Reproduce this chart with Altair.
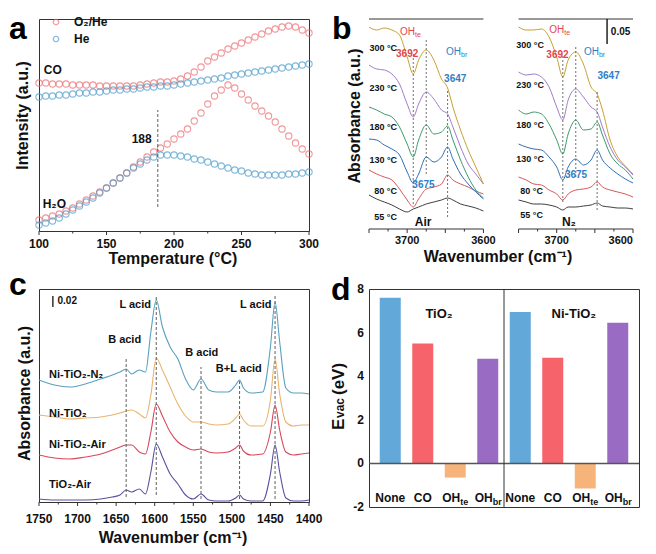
import altair as alt
import pandas as pd

FONT = "Liberation Sans"
INK = "#111111"
FRAME = "#333333"
DASH = "#4d4d4d"

# ===================== panel (a) data =====================
temp_a = list(range(100, 301, 5))
co_o2he = [148, 148, 147, 147, 147, 146, 146, 146, 146, 145, 145, 145, 145, 145, 145, 146, 147, 148, 149, 149,
           150, 152, 155, 159, 164, 170, 174, 178, 182, 185, 188, 191, 194, 197, 200, 202, 204, 205, 204, 201, 198]
co_he = [134, 135, 135, 136, 136, 137, 138, 138, 139, 139, 140, 141, 141, 142, 142, 143, 144, 144, 145, 145,
         146, 147, 148, 149, 150, 151, 152, 153, 155, 156, 157, 158, 159, 160, 161, 162, 163, 164, 165, 166, 167]
h2o_o2he = [11, 13, 15, 17, 20, 23, 27, 31, 35, 39, 43, 48, 53, 58, 64, 69, 74, 79, 83, 87,
            92, 97, 102, 110, 118, 127, 135, 141, 146, 143, 137, 131, 125, 120, 115, 109, 102, 95, 88, 82, 77]
h2o_he = [6, 8, 10, 13, 17, 21, 25, 29, 33, 38, 43, 48, 53, 58, 63, 67, 71, 74, 76, 76,
          76, 75, 74, 72, 71, 69, 67, 65, 63, 61, 60, 58, 57, 56, 56, 56, 56, 57, 57, 58, 59]
gases_a = ["O₂/He", "He"]
colors_a = ["#EC6B70", "#4A9BCB"]
ticks_a = list(range(100, 301, 25))
labels_a = [100, 150, 200, 250, 300]

# ===================== panel (b) data =====================
wn_b = [3750, 3740, 3730, 3720, 3710, 3700, 3692, 3685, 3675, 3665, 3655, 3647, 3640, 3630, 3620, 3610, 3600]
temps_b = ["55 °C", "80 °C", "130 °C", "180 °C", "230 °C", "300 °C"]
colors_b = ["#3F3F3F", "#D4575C", "#2D6DB4", "#3C9A6B", "#A07CC9", "#C6A032"]
air_b = {
    "300 °C": [202, 199, 201, 199, 194, 172, 155, 169, 179, 169, 150, 141, 122, 99, 79, 62, 45],
    "230 °C": [164, 160, 159, 155, 145, 125, 112, 125, 137, 130, 119, 115, 102, 82, 65, 55, 45],
    "180 °C": [122, 119, 115, 112, 102, 85, 72, 89, 104, 95, 97, 103, 89, 69, 52, 39, 31],
    "130 °C": [90, 89, 84, 80, 74, 57, 46, 55, 72, 67, 72, 82, 70, 55, 45, 37, 30],
    "80 °C": [59, 55, 52, 49, 40, 29, 22, 30, 40, 42, 45, 54, 49, 45, 42, 38, 35],
    "55 °C": [34, 30, 27, 24, 20, 17, 20, 22, 25, 27, 29, 31, 29, 25, 23, 21, 18],
}
n2_b = {
    "300 °C": [202, 199, 199, 200, 192, 172, 152, 169, 177, 165, 142, 135, 119, 89, 72, 63, 55],
    "230 °C": [157, 154, 155, 152, 142, 122, 109, 129, 140, 132, 122, 117, 102, 82, 69, 62, 54],
    "180 °C": [119, 115, 117, 115, 105, 89, 75, 95, 109, 99, 100, 107, 94, 75, 65, 59, 50],
    "130 °C": [85, 82, 80, 79, 72, 62, 49, 62, 70, 64, 69, 79, 69, 61, 55, 50, 46],
    "80 °C": [52, 49, 45, 44, 39, 35, 29, 35, 39, 40, 42, 47, 42, 39, 37, 35, 32],
    "55 °C": [29, 27, 25, 25, 24, 22, 19, 22, 22, 23, 24, 26, 23, 22, 21, 21, 20],
}
ticks_b = [3750, 3725, 3700, 3675, 3650, 3625, 3600]
labels_b = [3700, 3600]

# ===================== panel (c) data =====================
wn_c = [1750, 1730, 1710, 1690, 1670, 1655, 1645, 1637, 1630, 1620, 1612, 1605, 1598, 1590, 1580, 1570, 1560,
        1550, 1540, 1530, 1520, 1505, 1495, 1490, 1485, 1475, 1460, 1450, 1444, 1438, 1430, 1420, 1410, 1400]
samples_c = ["Ni-TiO₂-N₂", "Ni-TiO₂", "Ni-TiO₂-Air", "TiO₂-Air"]
colors_c = ["#5B9FBF", "#E8B46E", "#D9465B", "#5A52A0"]
abs_c = {
    "Ni-TiO₂-N₂": [122, 117, 115, 118, 123, 127, 130, 133, 128, 132, 130, 170, 202, 175, 155, 143, 123,
                   112, 123, 112, 110, 110, 117, 122, 114, 109, 110, 155, 200, 160, 114, 109, 109, 108],
    "Ni-TiO₂": [87, 85, 83, 84, 85, 87, 89, 91, 92, 88, 84, 107, 144, 132, 115, 98, 86,
                80, 80, 78, 77, 78, 84, 88, 82, 76, 76, 102, 143, 108, 80, 76, 77, 77],
    "Ni-TiO₂-Air": [47, 44, 43, 45, 48, 52, 55, 57, 57, 50, 48, 70, 98, 86, 70, 60, 55,
                    52, 53, 50, 49, 50, 54, 57, 51, 47, 48, 70, 97, 72, 50, 47, 48, 49],
    "TiO₂-Air": [3, 2, 2, 2, 3, 5, 7, 12, 10, 13, 8, 30, 58, 45, 28, 18, 7,
                 3, 8, 2, 1, 1, 4, 7, 3, 1, 1, 28, 57, 30, 4, 1, 1, 2],
}
ticks_c = list(range(1400, 1751, 25))
labels_c = list(range(1400, 1751, 50))

# ===================== panel (d) data =====================
cats_d = ["None", "CO", "OH_te", "OH_br"]
colors_d = ["#62A8D8", "#F6636B", "#F6B47A", "#9A6BC2"]
evac_tio2 = [7.6, 5.5, -0.65, 4.8]
evac_ni = [6.95, 4.85, -1.15, 6.45]
ticks_d = [-2, 0, 2, 4, 6, 8]


# ===================== helpers =====================
def letter(ch, x, y):
    return alt.Chart(pd.DataFrame({"t": [ch]})).mark_text(
        font=FONT, fontSize=32, fontWeight="bold", align="left", baseline="top", color="black"
    ).encode(text="t:N", x=alt.value(x), y=alt.value(y))


def title_text(t, x, y, angle=0, size=16):
    kw = dict(font=FONT, fontSize=size, fontWeight="bold", color=INK, align="center", baseline="alphabetic")
    if angle:
        kw["angle"] = angle
    return alt.Chart(pd.DataFrame({"t": [t]})).mark_text(**kw).encode(
        text="t:N", x=alt.value(x), y=alt.value(y))


def text_layer(records, xs, ys, xf="x", yf="y", calc=None, **mk):
    m = dict(font=FONT, fontSize=11, fontWeight="bold", color=INK, align="center", baseline="middle")
    m.update(mk)
    ch = alt.Chart(pd.DataFrame(records))
    if calc:
        ch = ch.transform_calculate(u=calc)
    return ch.mark_text(**m).encode(
        x=alt.X(f"{xf}:Q", scale=xs, axis=None),
        y=alt.Y(f"{yf}:Q", scale=ys, axis=None),
        text="t:N",
    )


def tick_rules(df, xs, xf, H, length, calc=None):
    ch = alt.Chart(df)
    if calc:
        ch = ch.transform_calculate(u=calc)
    return ch.mark_rule(color=FRAME, strokeWidth=1).encode(
        x=alt.X(f"{xf}:Q", scale=xs, axis=None), y=alt.value(H), y2=alt.value(H + length))


def tick_text(df, xs, xf, ypix, calc=None, **mk):
    m = dict(font=FONT, fontSize=12, fontWeight="bold", color=INK, align="center", baseline="top")
    m.update(mk)
    ch = alt.Chart(df)
    if calc:
        ch = ch.transform_calculate(u=calc)
    return ch.mark_text(**m).encode(
        x=alt.X(f"{xf}:Q", scale=xs, axis=None), y=alt.value(ypix), text="t:N")


# ===================== panel (a) =====================
HA = 212
rows = []
for gas, sp, vals in (("O₂/He", "CO", co_o2he), ("O₂/He", "H2O", h2o_o2he),
                      ("He", "CO", co_he), ("He", "H2O", h2o_he)):
    for t, v in zip(temp_a, vals):
        rows.append(dict(T=t, I=v, gas=gas, sp=sp))
df_a = pd.DataFrame(rows)

XS_A = alt.Scale(domain=[100, 300], nice=False, zero=False)
YS_A = alt.Scale(domain=[0, HA], nice=False, zero=False)

pts_a = alt.Chart(df_a).mark_point(filled=False, size=40, strokeWidth=1.1).encode(
    x=alt.X("T:Q", scale=XS_A, axis=None),
    y=alt.Y("I:Q", scale=YS_A, axis=None),
    color=alt.Color("gas:N", scale=alt.Scale(domain=gases_a, range=colors_a), legend=alt.Legend(
        orient="none", legendX=11, legendY=-3, title=None, labelFont=FONT, labelFontSize=12,
        labelFontWeight="bold", labelColor=INK, symbolSize=30, symbolStrokeWidth=1.2,
        symbolType="circle", labelOffset=12, rowPadding=5, padding=0)),
    detail="sp:N",
)
rule_a = alt.Chart(pd.DataFrame({"T": [188], "y1": [24], "y2": [121]})).mark_rule(
    color=DASH, strokeDash=[3, 2], strokeWidth=0.9).encode(
    x=alt.X("T:Q", scale=XS_A, axis=None), y=alt.Y("y1:Q", scale=YS_A, axis=None), y2="y2:Q")
txt_a1 = text_layer([{"x": 103.5, "y": 161, "t": "CO"}, {"x": 102.7, "y": 27, "t": "H₂O"}],
                    XS_A, YS_A, fontSize=12, align="left")
txt_a2 = text_layer([{"x": 183.5, "y": 92, "t": "188"}], XS_A, YS_A, fontSize=12, align="right")
df_ta = pd.DataFrame({"x": ticks_a})
df_la = pd.DataFrame({"x": labels_a, "t": [str(v) for v in labels_a]})

panel_a = alt.layer(
    pts_a, rule_a, txt_a1, txt_a2,
    tick_rules(df_ta[df_ta.x.isin(labels_a)], XS_A, "x", HA, 4),
    tick_rules(df_ta[~df_ta.x.isin(labels_a)], XS_A, "x", HA, 2.5),
    tick_text(df_la, XS_A, "x", HA + 8),
    title_text("Temperature (°C)", 134, HA + 33),
    title_text("Intensity (a.u.)", -11.5, 96.5, angle=270),
    letter("a", -30, -5),
).properties(width=270, height=HA)

# ===================== panel (b) =====================
HB = 210
U_EXPR = "datum.gas == 'N2' ? 3946 - datum.wn : 3750 - datum.wn"
XS_B = alt.Scale(domain=[0, 346], nice=False, zero=False)
YS_B = alt.Scale(domain=[0, HB], nice=False, zero=False)

rows = []
for gas, series in (("Air", air_b), ("N2", n2_b)):
    for temp in temps_b:
        for w, v in zip(wn_b, series[temp]):
            rows.append(dict(gas=gas, temp=temp, wn=w, ab=v))
df_b = pd.DataFrame(rows)

lines_b = alt.Chart(df_b).transform_calculate(u=U_EXPR).mark_line(
    strokeWidth=1, interpolate="monotone").encode(
    x=alt.X("u:Q", scale=XS_B, axis=None),
    y=alt.Y("ab:Q", scale=YS_B, axis=None),
    color=alt.Color("temp:N", scale=alt.Scale(domain=temps_b, range=colors_b), legend=None),
    detail="gas:N",
)

frame_b = pd.DataFrame({"gas": ["Air", "N2"], "wn1": [3750, 3750], "wn2": [3600, 3600],
                        "top": [HB, HB], "bot": [0, 0]})
frame_calc = dict(u1="datum.gas == 'N2' ? 3946 - datum.wn1 : 3750 - datum.wn1",
                  u2="datum.gas == 'N2' ? 3946 - datum.wn2 : 3750 - datum.wn2")
top_b = alt.Chart(frame_b).transform_calculate(**frame_calc).mark_rule(color=FRAME, strokeWidth=1).encode(
    x=alt.X("u1:Q", scale=XS_B, axis=None), x2="u2:Q", y=alt.Y("top:Q", scale=YS_B, axis=None))
bot_b = alt.Chart(frame_b).transform_calculate(**frame_calc).mark_rule(color=FRAME, strokeWidth=1).encode(
    x=alt.X("u1:Q", scale=XS_B, axis=None), x2="u2:Q", y=alt.Y("bot:Q", scale=YS_B, axis=None))

dash_b = pd.DataFrame([
    dict(gas="Air", wn=3692, y1=25, y2=175), dict(gas="Air", wn=3675, y1=55, y2=189),
    dict(gas="Air", wn=3647, y1=12, y2=139), dict(gas="N2", wn=3692, y1=27, y2=175),
    dict(gas="N2", wn=3675, y1=52, y2=184), dict(gas="N2", wn=3647, y1=19, y2=139)])
dashes_b = alt.Chart(dash_b).transform_calculate(u=U_EXPR).mark_rule(
    color=DASH, strokeDash=[2, 2], strokeWidth=0.8).encode(
    x=alt.X("u:Q", scale=XS_B, axis=None), y=alt.Y("y1:Q", scale=YS_B, axis=None), y2="y2:Q")

bar_b = alt.Chart(pd.DataFrame([dict(gas="N2", wn=3634, y1=185, y2=HB)])).transform_calculate(
    u=U_EXPR).mark_rule(color="black", strokeWidth=1.3).encode(
    x=alt.X("u:Q", scale=XS_B, axis=None), y=alt.Y("y1:Q", scale=YS_B, axis=None), y2="y2:Q")

temp_lbl = [
    dict(gas="Air", wn=3749.5, ab=181, t="300 °C"), dict(gas="Air", wn=3749.5, ab=141, t="230 °C"),
    dict(gas="Air", wn=3749.5, ab=102, t="180 °C"), dict(gas="Air", wn=3749.5, ab=69.5, t="130 °C"),
    dict(gas="Air", wn=3743, ab=38, t="80 °C"), dict(gas="Air", wn=3743, ab=12, t="55 °C"),
    dict(gas="N2", wn=3753, ab=184, t="300 °C"), dict(gas="N2", wn=3753, ab=144, t="230 °C"),
    dict(gas="N2", wn=3753, ab=104, t="180 °C"), dict(gas="N2", wn=3753, ab=70, t="130 °C"),
    dict(gas="N2", wn=3747.7, ab=38, t="80 °C"), dict(gas="N2", wn=3747.7, ab=14, t="55 °C")]
RED_B = "#E2474F"
BLUE_B = "#2F7EC6"
bt = dict(xs=XS_B, ys=YS_B, xf="u", yf="ab", calc=U_EXPR)
lbl_b = [
    text_layer(temp_lbl, fontSize=9, align="left", **bt),
    text_layer([dict(gas="Air", wn=3679, ab=7, t="Air"), dict(gas="N2", wn=3684, ab=7, t="N₂")],
               fontSize=12, **bt),
    text_layer([dict(gas="Air", wn=3689.7, ab=197, t="OH"), dict(gas="N2", wn=3690, ab=199, t="OH")],
               fontSize=10, fontWeight="normal", align="right", color=RED_B, **bt),
    text_layer([dict(gas="Air", wn=3689.7, ab=197, t="te"), dict(gas="N2", wn=3690, ab=199, t="te")],
               fontSize=7, fontWeight="normal", align="left", dy=3, color=RED_B, **bt),
    text_layer([dict(gas="Air", wn=3629.4, ab=177, t="OH"), dict(gas="N2", wn=3644.6, ab=177, t="OH")],
               fontSize=10, fontWeight="normal", align="right", color=BLUE_B, **bt),
    text_layer([dict(gas="Air", wn=3629.4, ab=177, t="br"), dict(gas="N2", wn=3644.6, ab=177, t="br")],
               fontSize=7, fontWeight="normal", align="left", dy=3, color=BLUE_B, **bt),
    text_layer([dict(gas="Air", wn=3700, ab=175, t="3692"), dict(gas="N2", wn=3699, ab=174, t="3692")],
               fontSize=10, color=RED_B, **bt),
    text_layer([dict(gas="Air", wn=3637, ab=150, t="3647"), dict(gas="N2", wn=3632, ab=153, t="3647"),
                dict(gas="Air", wn=3678.6, ab=44, t="3675"), dict(gas="N2", wn=3674.7, ab=54, t="3675")],
               fontSize=10, color=BLUE_B, **bt),
    text_layer([dict(gas="N2", wn=3629, ab=197, t="0.05")], fontSize=10, align="left", **bt),
]
df_tb = pd.DataFrame([dict(gas=g, wn=w) for g in ("Air", "N2") for w in ticks_b])
df_lb = pd.DataFrame([dict(gas=g, wn=w, t=str(w)) for g in ("Air", "N2") for w in labels_b])
df_lb_c = df_lb[~((df_lb.gas == "N2") & (df_lb.wn == 3600))]
df_lb_r = df_lb[(df_lb.gas == "N2") & (df_lb.wn == 3600)]

panel_b = alt.layer(
    lines_b, top_b, bot_b, dashes_b, bar_b, *lbl_b,
    tick_rules(df_tb[df_tb.wn % 50 == 0], XS_B, "u", HB, 4, calc=U_EXPR),
    tick_rules(df_tb[df_tb.wn % 50 != 0], XS_B, "u", HB, 2.5, calc=U_EXPR),
    tick_text(df_lb_c, XS_B, "u", HB + 6, calc=U_EXPR, fontSize=11),
    tick_text(df_lb_r, XS_B, "u", HB + 6, calc=U_EXPR, fontSize=11, align="right"),
    title_text("Wavenumber (cm⁻¹)", 129, HB + 33),
    title_text("Absorbance (a.u.)", -9.5, 97, angle=270),
    letter("b", -37, -5),
).properties(width=264, height=HB, view=alt.ViewBackground(stroke="transparent"))

# ===================== panel (c) =====================
HC = 213
XS_C = alt.Scale(domain=[1750, 1400], nice=False, zero=False)
YS_C = alt.Scale(domain=[0, HC], nice=False, zero=False)
rows = []
for s in samples_c:
    for w, v in zip(wn_c, abs_c[s]):
        rows.append(dict(sample=s, wn=w, ab=v))
df_c = pd.DataFrame(rows)

lines_c = alt.Chart(df_c).mark_line(strokeWidth=1.1, interpolate="monotone").encode(
    x=alt.X("wn:Q", scale=XS_C, axis=None),
    y=alt.Y("ab:Q", scale=YS_C, axis=None),
    color=alt.Color("sample:N", scale=alt.Scale(domain=samples_c, range=colors_c), legend=None),
)
dash_c = pd.DataFrame([dict(wn=1637, y1=5, y2=145), dict(wn=1598, y1=7, y2=207),
                       dict(wn=1540, y1=3, y2=135), dict(wn=1490, y1=3, y2=122),
                       dict(wn=1444, y1=3, y2=208)])
dashes_c = alt.Chart(dash_c).mark_rule(color=DASH, strokeDash=[3, 2], strokeWidth=0.9).encode(
    x=alt.X("wn:Q", scale=XS_C, axis=None), y=alt.Y("y1:Q", scale=YS_C, axis=None), y2="y2:Q")
bar_c = alt.Chart(pd.DataFrame([dict(wn=1732, y1=195, y2=206)])).mark_rule(
    color="black", strokeWidth=1.2).encode(
    x=alt.X("wn:Q", scale=XS_C, axis=None), y=alt.Y("y1:Q", scale=YS_C, axis=None), y2="y2:Q")
ct = dict(xs=XS_C, ys=YS_C, xf="wn", yf="ab")
lbl_c = [
    text_layer([dict(wn=1604.8, ab=197, t="L acid")], align="right", **ct),
    text_layer([dict(wn=1639, ab=162, t="B acid"), dict(wn=1539, ab=149, t="B acid"),
                dict(wn=1491, ab=133, t="B+L acid"), dict(wn=1469, ab=197, t="L acid")], **ct),
    text_layer([dict(wn=1737, ab=127, t="Ni-TiO₂-N₂"), dict(wn=1737, ab=88, t="Ni-TiO₂"),
                dict(wn=1737, ab=57, t="Ni-TiO₂-Air"), dict(wn=1737, ab=17, t="TiO₂-Air")],
               align="left", **ct),
    text_layer([dict(wn=1726, ab=201, t="0.02")], fontSize=10, align="left", **ct),
]
df_tc = pd.DataFrame({"wn": ticks_c})
df_lc = pd.DataFrame({"wn": labels_c, "t": [str(v) for v in labels_c]})
panel_c = alt.layer(
    lines_c, dashes_c, bar_c, *lbl_c,
    tick_rules(df_tc[df_tc.wn.isin(labels_c)], XS_C, "wn", HC, 4),
    tick_rules(df_tc[~df_tc.wn.isin(labels_c)], XS_C, "wn", HC, 2.5),
    tick_text(df_lc, XS_C, "wn", HC + 12),
    title_text("Wavenumber (cm⁻¹)", 134, HC + 41),
    title_text("Absorbance (a.u.)", -9.5, 104.5, angle=270),
    letter("c", -30, -18.6),
).properties(width=270, height=HC)

# ===================== panel (d) =====================
XS_D = alt.Scale(domain=[0.5, 8.5], nice=False, zero=False)
YS_D = alt.Scale(domain=[-2, 8], nice=False, zero=False)
df_d = pd.DataFrame({"pos": list(range(1, 9)), "cat": cats_d * 2, "E": evac_tio2 + evac_ni})

bars_d = alt.Chart(df_d).mark_bar(size=21).encode(
    x=alt.X("pos:Q", scale=XS_D, axis=None),
    y=alt.Y("E:Q", scale=YS_D, axis=None),
    y2=alt.datum(0),
    color=alt.Color("cat:N", scale=alt.Scale(domain=cats_d, range=colors_d), legend=None),
)
zero_d = alt.Chart(pd.DataFrame({"z": [0]})).mark_rule(color="#555555", strokeWidth=1.5).encode(
    y=alt.Y("z:Q", scale=YS_D, axis=None))
div_d = alt.Chart(pd.DataFrame({"dv": [4.5]})).mark_rule(color=FRAME, strokeWidth=1).encode(
    x=alt.X("dv:Q", scale=XS_D, axis=None))
ytick_d = alt.Chart(pd.DataFrame({"v": ticks_d, "t": [str(v) for v in ticks_d]})).mark_text(
    font=FONT, fontSize=12, fontWeight="bold", color=INK, align="right", baseline="middle").encode(
    x=alt.value(-5), y=alt.Y("v:Q", scale=YS_D, axis=None), text="t:N")
dt = dict(xs=XS_D, ys=YS_D, xf="pos", yf="ly")
LY = -1.58
lbl_d = [
    text_layer([dict(pos=1, ly=LY, t="None"), dict(pos=2, ly=LY, t="CO"),
                dict(pos=5, ly=LY, t="None"), dict(pos=6, ly=LY, t="CO")], fontSize=12, **dt),
    text_layer([dict(pos=p, ly=LY, t="OH") for p in (3, 4, 7, 8)], fontSize=12, align="right", dx=5, **dt),
    text_layer([dict(pos=3, ly=LY, t="te"), dict(pos=4, ly=LY, t="br"),
                dict(pos=7, ly=LY, t="te"), dict(pos=8, ly=LY, t="br")],
               fontSize=9, align="left", dx=5, dy=4, **dt),
    text_layer([dict(pos=2.5, ly=6.85, t="TiO₂"), dict(pos=6.65, ly=6.85, t="Ni-TiO₂")], fontSize=13, **dt),
]
ytitle = dict(font=FONT, fontWeight="bold", angle=270, align="left", baseline="alphabetic", color=INK)
ev = [
    alt.Chart(pd.DataFrame({"t": ["E"]})).mark_text(fontSize=17, **ytitle).encode(
        text="t:N", x=alt.value(-25), y=alt.value(141)),
    alt.Chart(pd.DataFrame({"t": ["vac"]})).mark_text(fontSize=12, **ytitle).encode(
        text="t:N", x=alt.value(-25), y=alt.value(129)),
    alt.Chart(pd.DataFrame({"t": ["(eV)"]})).mark_text(fontSize=17, **ytitle).encode(
        text="t:N", x=alt.value(-25), y=alt.value(106)),
]
panel_d = alt.layer(
    bars_d, zero_d, div_d, ytick_d, *lbl_d, *ev, letter("d", -38, -14)
).properties(width=270, height=218)

# ===================== assemble =====================
chart = alt.concat(
    panel_a, panel_b, panel_c, panel_d,
    columns=2, spacing={"row": 58, "column": 60}, bounds="flush",
).resolve_scale(color="independent").properties(
    padding={"left": 0, "top": 4, "right": 0, "bottom": 0}
).configure_view(stroke=FRAME, strokeWidth=1)

chart.save("out.html", embed_options={"renderer": "svg", "actions": False})
